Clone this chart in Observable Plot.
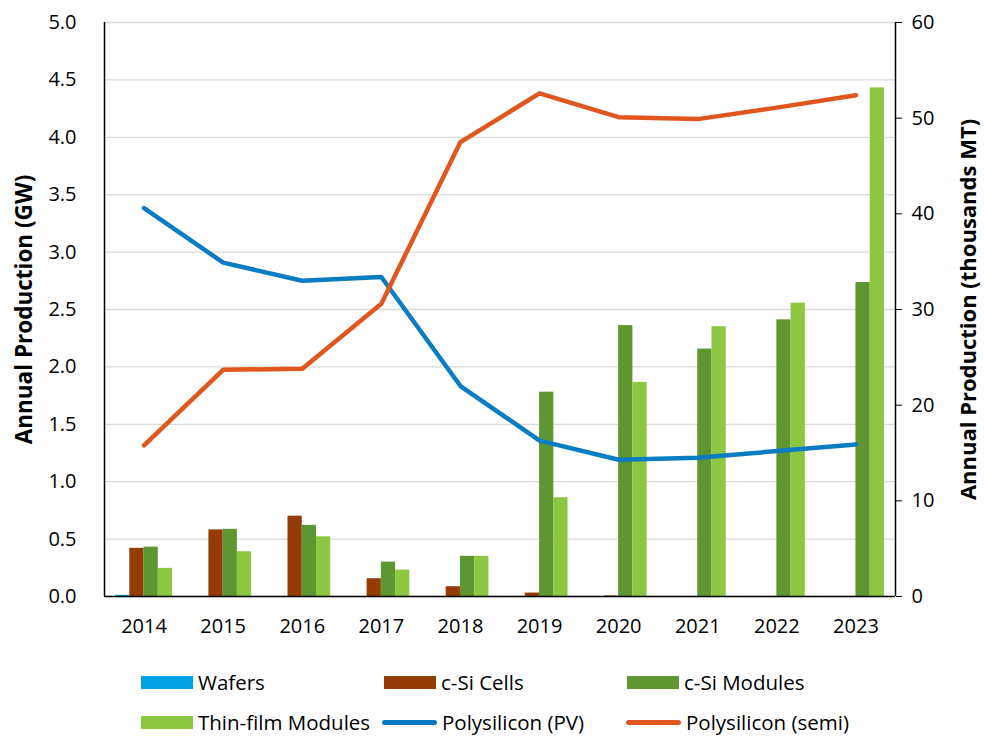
<!DOCTYPE html>
<html>
<head>
<meta charset="utf-8">
<script src="https://cdn.jsdelivr.net/npm/d3@7"></script>
<script src="https://cdn.jsdelivr.net/npm/@observablehq/plot@0.6"></script>
<style>
  html, body { margin: 0; padding: 0; background: #fff; }
  #wrap { position: relative; width: 984px; height: 737px; font-family: "Open Sans", sans-serif; }
  #chart { position: absolute; left: 0; top: 0; }
  .leg { position: absolute; display: flex; align-items: center; font-size: 20.5px; line-height: 30px; height: 30px; color: #000; white-space: nowrap; }
  .sw { width: 52px; height: 13px; margin-right: 5px; }
  .ln { width: 55px; height: 5px; border-radius: 3px; margin-right: 5px; }
</style>
</head>
<body>
<div id="wrap">
  <div id="chart"></div>
</div>
<script>
const years = [2014, 2015, 2016, 2017, 2018, 2019, 2020, 2021, 2022, 2023];
const seriesNames = ["Wafers", "c-Si Cells", "c-Si Modules", "Thin-film Modules"];
const seriesColors = ["#00A2E3", "#943B06", "#5E9732", "#8DC641"];
const wafers        = [0.01, 0, 0, 0, 0, 0, 0, 0, 0, 0];
const cSiCells      = [0.42, 0.58, 0.70, 0.155, 0.085, 0.03, 0.005, 0, 0, 0];
const cSiModules    = [0.43, 0.585, 0.62, 0.30, 0.35, 1.78, 2.36, 2.155, 2.41, 2.735];
const thinFilm      = [0.245, 0.39, 0.52, 0.23, 0.35, 0.86, 1.865, 2.35, 2.555, 4.43];
// thousands MT (right axis)
const polyPV   = [40.6, 34.9, 33.0, 33.4, 22.0, 16.3, 14.3, 14.5, 15.2, 15.9];
const polySemi = [15.8, 23.7, 23.8, 30.6, 47.5, 52.6, 50.1, 49.9, 51.1, 52.4];
const lineNames = ["Polysilicon (PV)", "Polysilicon (semi)"];
const lineColors = ["#0A7CC1", "#E0561F"];
const leftTicks = d3.range(0, 5.01, 0.5);
const rightTicks = [0, 10, 20, 30, 40, 50, 60];

const ratio = 60 / 5; // right axis units per left axis unit
const barVals = [wafers, cSiCells, cSiModules, thinFilm];
const barW = 0.18;
const offsets = [-0.27, -0.09, 0.09, 0.27];
const bars = [];
barVals.forEach((arr, i) => arr.forEach((v, j) => bars.push({year: years[j], series: seriesNames[i], idx: i, value: v})));
const lines = [];
[polyPV, polySemi].forEach((arr, i) => arr.forEach((v, j) => lines.push({year: years[j], series: lineNames[i], value: v})));

const chart = Plot.plot({
  width: 984,
  height: 650,
  marginLeft: 104,
  marginRight: 89,
  marginTop: 22,
  marginBottom: 54,
  style: {fontFamily: "Open Sans", fontSize: "20px", color: "#000", background: "#fff"},
  x: {type: "linear", domain: [2013.5, 2023.5]},
  y: {domain: [0, 5]},
  color: {domain: [...seriesNames, ...lineNames], range: [...seriesColors, ...lineColors]},
  marks: [
    Plot.gridY(leftTicks, {stroke: "#d9d9d9", strokeOpacity: 1, strokeWidth: 1.3}),
    Plot.rectY(bars, {
      x1: d => d.year + offsets[d.idx] - barW / 2,
      x2: d => d.year + offsets[d.idx] + barW / 2,
      y1: 0, y2: "value",
      fill: "series"
    }),
    Plot.line(lines, {x: "year", y: d => d.value / ratio, z: "series", stroke: "series", strokeWidth: 4.5, strokeLinecap: "round", strokeLinejoin: "round"}),
    Plot.ruleY([0], {stroke: "#000", strokeWidth: 1.5}),
    Plot.ruleX([2013.5, 2023.5], {stroke: "#000", strokeWidth: 1.5}),
    Plot.axisX(years, {tickSize: 0, tickPadding: 22, tickFormat: d => String(d), label: null}),
    Plot.axisY(leftTicks, {anchor: "left", tickSize: 0, tickPadding: 28, tickFormat: d => d.toFixed(1), label: null}),
    Plot.axisY(rightTicks.map(v => v / ratio), {anchor: "right", tickSize: 6, tickPadding: 10, stroke: "#000", tickFormat: d => String(Math.round(d * ratio)), label: null}),
    Plot.text(["Annual Production (GW)"], {frameAnchor: "left", textAnchor: "middle", dx: -80, rotate: -90, text: d => d, fontWeight: "bold", fontSize: 22.5}),
    Plot.text(["Annual Production (thousands MT)"], {frameAnchor: "right", textAnchor: "middle", dx: 73, rotate: -90, text: d => d, fontWeight: "bold", fontSize: 22})
  ]
});
document.getElementById("chart").appendChild(chart);

// Legend
const wrap = document.getElementById("wrap");
const legendItems = [
  {name: seriesNames[0], color: seriesColors[0], kind: "sw", x: 141, y: 682},
  {name: seriesNames[1], color: seriesColors[1], kind: "sw", x: 384, y: 682},
  {name: seriesNames[2], color: seriesColors[2], kind: "sw", x: 627, y: 682},
  {name: seriesNames[3], color: seriesColors[3], kind: "sw", x: 141, y: 722},
  {name: lineNames[0], color: lineColors[0], kind: "ln", x: 382, y: 722},
  {name: lineNames[1], color: lineColors[1], kind: "ln", x: 626, y: 722}
];
legendItems.forEach(it => {
  const d = document.createElement("div");
  d.className = "leg";
  d.style.left = it.x + "px";
  d.style.top = (it.y - 15) + "px";
  const s = document.createElement("span");
  s.className = it.kind;
  s.style.background = it.color;
  const t = document.createElement("span");
  t.textContent = it.name;
  d.appendChild(s); d.appendChild(t);
  wrap.appendChild(d);
});
</script>
</body>
</html>
